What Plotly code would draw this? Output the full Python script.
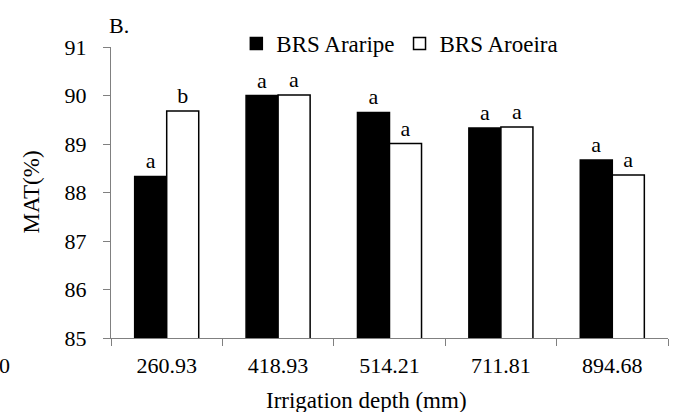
import plotly.graph_objects as go

categories = ["260.93", "418.93", "514.21", "711.81", "894.68"]
araripe = [88.33, 90.0, 89.65, 89.33, 88.67]
aroeira = [89.68, 90.01, 89.01, 89.35, 88.36]
araripe_letters = ["a", "a", "a", "a", "a"]
aroeira_letters = ["b", "a", "a", "a", "a"]
series_names = ["BRS Araripe", "BRS Aroeira"]
y_title = "MAT(%)"
x_title = "Irrigation depth (mm)"
panel_label = "B."

FONT = "Liberation Serif"

fig = go.Figure()
fig.add_trace(go.Bar(
    x=categories, y=araripe, name=series_names[0],
    marker=dict(color="black", line=dict(color="black", width=1.5)),
    text=araripe_letters, textposition="outside", constraintext="none",
    cliponaxis=False, textfont=dict(family=FONT, size=22, color="black"),
))
fig.add_trace(go.Bar(
    x=categories, y=aroeira, name=series_names[1],
    marker=dict(color="white", line=dict(color="black", width=1.5)),
    text=aroeira_letters, textposition="outside", constraintext="none",
    cliponaxis=False, textfont=dict(family=FONT, size=22, color="black"),
))

fig.update_layout(
    width=677, height=412,
    margin=dict(l=111, r=9, t=47, b=74, autoexpand=False),
    paper_bgcolor="white", plot_bgcolor="white",
    font=dict(family=FONT, size=22, color="black"),
    barmode="group", bargap=0.425, bargroupgap=0,
    showlegend=True,
    legend=dict(orientation="h", x=0.225, xanchor="left", y=1.012, yanchor="middle",
                font=dict(family=FONT, size=23, color="black"),
                itemwidth=30, bgcolor="rgba(0,0,0,0)", traceorder="normal"),
    xaxis=dict(type="category", showline=True, linecolor="#808080", linewidth=1,
               ticks="outside", tickson="boundaries", ticklen=7, tickcolor="#808080",
               showgrid=False, zeroline=False,
               tickfont=dict(family=FONT, size=22, color="black"),
               ticklabelstandoff=8),
    yaxis=dict(range=[85, 91], dtick=1, showline=True, linecolor="#808080", linewidth=1,
               ticks="outside", ticklen=7, tickcolor="#808080",
               showgrid=False, zeroline=False,
               tickfont=dict(family=FONT, size=22, color="black"),
               ticklabelstandoff=12),
    annotations=[
        dict(text=panel_label, xref="paper", yref="paper", x=-0.008, y=1.075,
             xanchor="left", yanchor="middle", showarrow=False,
             font=dict(family=FONT, size=22, color="black")),
        dict(text=x_title, xref="paper", yref="paper", x=(366 - 111) / 557, y=-0.215,
             xanchor="center", yanchor="middle", showarrow=False,
             font=dict(family=FONT, size=23, color="black")),
        dict(text=y_title, xref="paper", yref="paper", x=(31 - 111) / 557, y=0.5,
             xanchor="center", yanchor="middle", textangle=-90, showarrow=False,
             font=dict(family=FONT, size=23, color="black")),
        dict(text="0", xref="paper", yref="paper", x=(4 - 111) / 557, y=-0.095,
             xanchor="center", yanchor="middle", showarrow=False,
             font=dict(family=FONT, size=22, color="black")),
    ],
)

fig.write_html(
    "out.html",
    config={"displayModeBar": False},
    post_script="document.body.style.margin='0';document.body.style.overflow='hidden';",
)
